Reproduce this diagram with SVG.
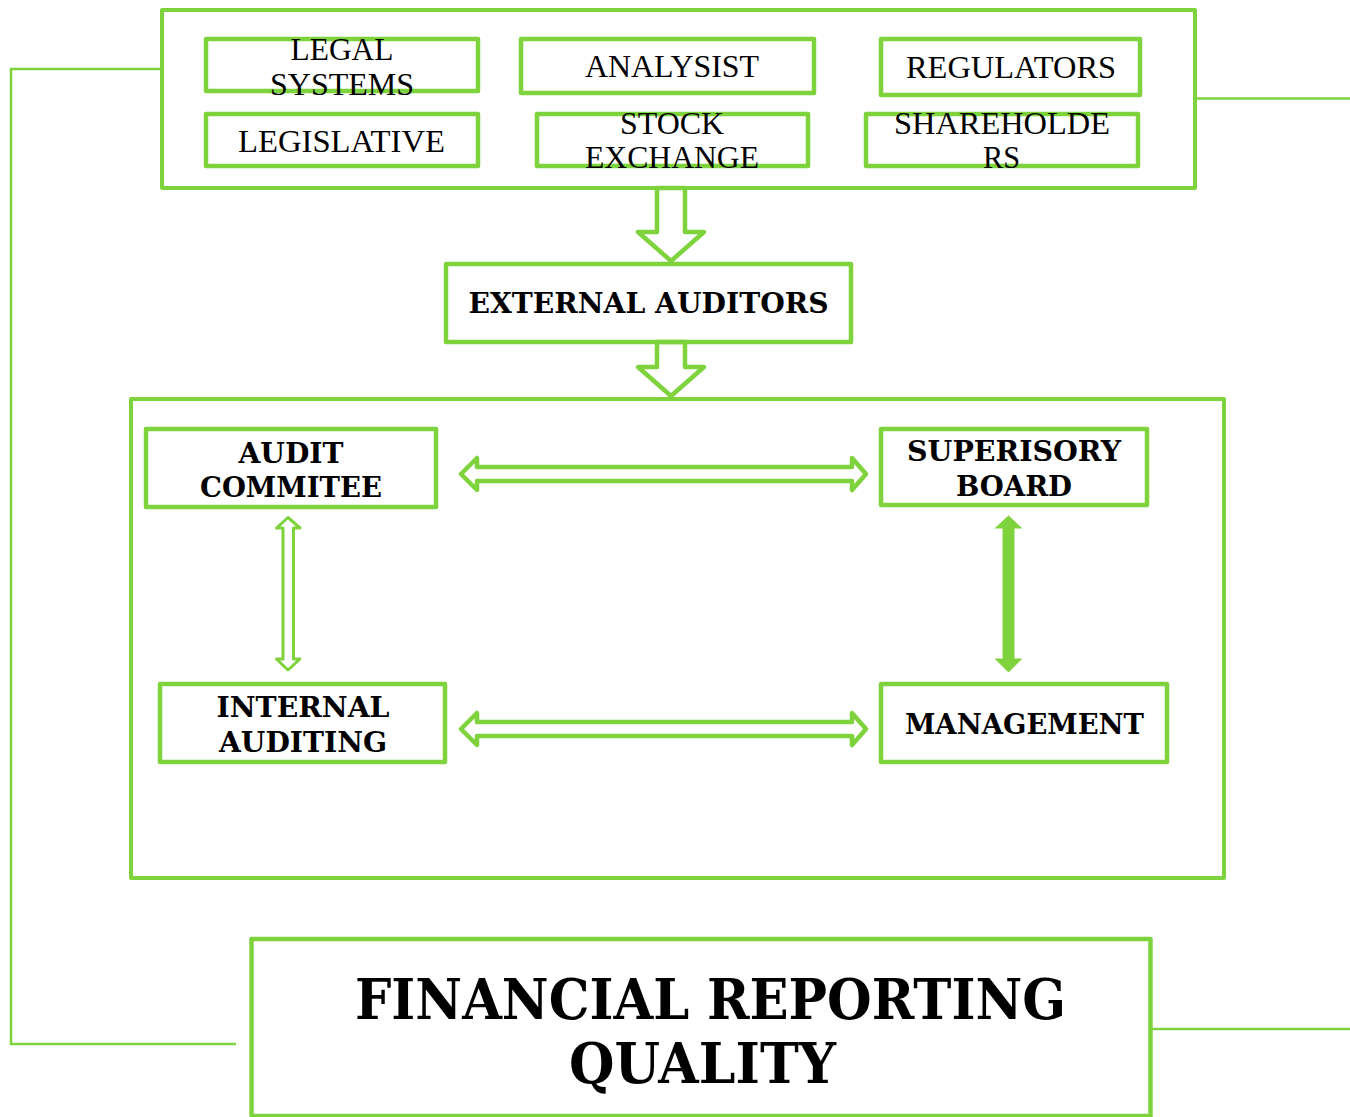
<svg xmlns="http://www.w3.org/2000/svg" width="1350" height="1117" viewBox="0 0 1350 1117">
  <style>
    .box { fill: none; stroke: #7ED33C; stroke-width: 4.5; stroke-linejoin: round; }
    .frame { fill: none; stroke: #7ED33C; stroke-width: 4; stroke-linejoin: round; }
    .wire { fill: none; stroke: #7ED33C; stroke-width: 2.5; }
    .hollow { fill: #ffffff; stroke: #7ED33C; stroke-width: 4.5; stroke-linejoin: round; }
    .thin { fill: #ffffff; stroke: #7ED33C; stroke-width: 3; stroke-linejoin: round; }
    .solid { fill: #7ED33C; stroke: #7ED33C; stroke-width: 1; stroke-linejoin: round; }
    text { fill: #000; text-anchor: middle; }
    text.reg { font-family: 'Liberation Serif', serif; font-size: 32px; font-weight: normal; }
    text.bold { font-family: 'DejaVu Serif', 'Liberation Serif', serif; font-size: 28px; font-weight: bold; }
    text.title { font-family: 'DejaVu Serif', 'Liberation Serif', serif; font-size: 56px; font-weight: bold; }
  </style>
  <rect width="1350" height="1117" fill="#ffffff"/>

  <!-- outer connectors -->
  <g id="connectors">
    <polyline class="wire" points="161,69 11,69 11,1044 236,1044"/>
    <line class="wire" x1="1196" y1="98.5" x2="1350" y2="98.5"/>
    <line class="wire" x1="1152" y1="1029" x2="1350" y2="1029"/>
    <!-- down arrows -->
    <polygon class="hollow" points="657,188 685,188 685,232 704,232 671,261 638,232 657,232"/>
    <polygon class="hollow" points="657,342 685,342 685,367 704,367 671,396 638,367 657,367"/>
    <!-- horizontal double arrows -->
    <polygon class="hollow" points="461,474 477,458 477,467 852,467 852,458 866,474 852,490 852,481 477,481 477,490"/>
    <polygon class="hollow" points="461,729 477,713 477,722 852,722 852,713 866,729 852,745 852,736 477,736 477,745"/>
    <!-- vertical double arrows -->
    <polygon class="thin" points="288,517.5 300,528 293.5,528 293.5,659 300,659 288,670 276.5,659 283,659 283,528 276.5,528"/>
    <polygon class="solid" points="1008.5,516 1021.5,528 1014,528 1014,659 1021.5,659 1008.5,672 995.5,659 1003,659 1003,528 995.5,528"/>
  </g>

  <!-- external stakeholders frame -->
  <g id="stakeholders">
    <rect class="frame" x="162" y="10" width="1033" height="178"/>
  </g>
  <g id="legal-systems">
    <rect class="box" x="206" y="39" width="272" height="52"/>
    <text class="reg" x="342" y="60" textLength="103" lengthAdjust="spacingAndGlyphs">LEGAL</text>
    <text class="reg" x="342" y="95" textLength="144" lengthAdjust="spacingAndGlyphs">SYSTEMS</text>
  </g>
  <g id="analysist">
    <rect class="box" x="521" y="39" width="293" height="54"/>
    <text class="reg" x="672" y="77" textLength="174" lengthAdjust="spacingAndGlyphs">ANALYSIST</text>
  </g>
  <g id="regulators">
    <rect class="box" x="881" y="39" width="259" height="56"/>
    <text class="reg" x="1011" y="78" textLength="210" lengthAdjust="spacingAndGlyphs">REGULATORS</text>
  </g>
  <g id="legislative">
    <rect class="box" x="206" y="114" width="272" height="52"/>
    <text class="reg" x="341.5" y="152" textLength="207" lengthAdjust="spacingAndGlyphs">LEGISLATIVE</text>
  </g>
  <g id="stock-exchange">
    <rect class="box" x="537" y="114" width="271" height="52"/>
    <text class="reg" x="672" y="134" textLength="104" lengthAdjust="spacingAndGlyphs">STOCK</text>
    <text class="reg" x="672" y="168" textLength="174" lengthAdjust="spacingAndGlyphs">EXCHANGE</text>
  </g>
  <g id="shareholders">
    <rect class="box" x="866" y="114" width="272" height="52"/>
    <text class="reg" x="1002" y="134" textLength="216" lengthAdjust="spacingAndGlyphs">SHAREHOLDE</text>
    <text class="reg" x="1001.5" y="168" textLength="37" lengthAdjust="spacingAndGlyphs">RS</text>
  </g>

  <g id="external-auditors">
    <rect class="box" x="446" y="264" width="405" height="78"/>
    <text class="bold" x="648.5" y="313" textLength="360" lengthAdjust="spacingAndGlyphs">EXTERNAL AUDITORS</text>
  </g>

  <!-- internal governance frame -->
  <g id="governance">
    <rect class="frame" x="131" y="399" width="1093" height="479"/>
  </g>
  <g id="audit-committee">
    <rect class="box" x="146" y="429" width="290" height="78"/>
    <text class="bold" x="291" y="462.5" textLength="105" lengthAdjust="spacingAndGlyphs">AUDIT</text>
    <text class="bold" x="291" y="497" textLength="182" lengthAdjust="spacingAndGlyphs">COMMITEE</text>
  </g>
  <g id="supervisory-board">
    <rect class="box" x="881" y="429" width="266" height="76"/>
    <text class="bold" x="1014" y="461" textLength="214" lengthAdjust="spacingAndGlyphs">SUPERISORY</text>
    <text class="bold" x="1014" y="496" textLength="116" lengthAdjust="spacingAndGlyphs">BOARD</text>
  </g>
  <g id="internal-auditing">
    <rect class="box" x="160" y="684" width="285" height="78"/>
    <text class="bold" x="303" y="717" textLength="173" lengthAdjust="spacingAndGlyphs">INTERNAL</text>
    <text class="bold" x="303" y="752" textLength="168" lengthAdjust="spacingAndGlyphs">AUDITING</text>
  </g>
  <g id="management">
    <rect class="box" x="881" y="684" width="286" height="78"/>
    <text class="bold" x="1024.5" y="734" textLength="239" lengthAdjust="spacingAndGlyphs">MANAGEMENT</text>
  </g>

  <g id="financial-reporting-quality">
    <rect class="box" x="251.5" y="939" width="899" height="177"/>
    <text class="title" x="710.5" y="1019" textLength="711" lengthAdjust="spacingAndGlyphs">FINANCIAL REPORTING</text>
    <text class="title" x="702.5" y="1083" textLength="267" lengthAdjust="spacingAndGlyphs">QUALITY</text>
  </g>
</svg>
